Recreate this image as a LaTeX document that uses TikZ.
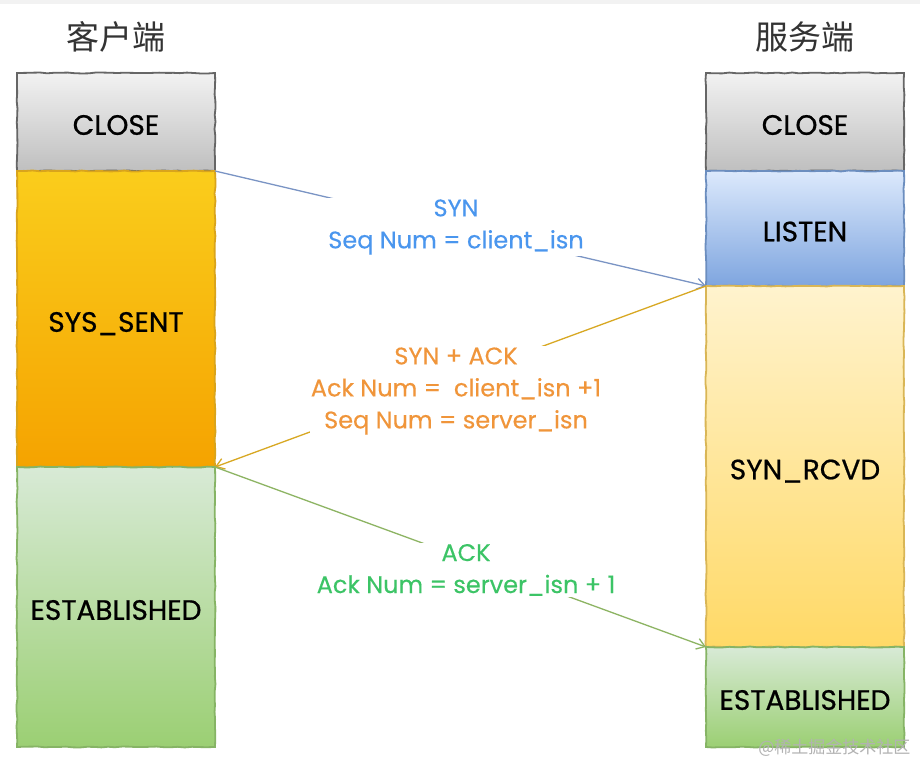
\documentclass[tikz,border=0pt]{standalone}
\usepackage{fontspec}
\setmainfont[FakeBold=0.3]{Poppins}
\newfontfamily\boxfont[FakeBold=0.7]{Poppins}
\newfontfamily\cjk{Noto Sans CJK SC}
\usetikzlibrary{arrows.meta,decorations.pathmorphing}
\definecolor{closeT}{HTML}{F2F2F2}
\definecolor{closeB}{HTML}{BFBFBF}
\definecolor{closeD}{HTML}{666666}
\definecolor{sentT}{HTML}{FACD1C}
\definecolor{sentB}{HTML}{F5A300}
\definecolor{sentD}{HTML}{D9A41C}
\definecolor{estT}{HTML}{D8EAD6}
\definecolor{estB}{HTML}{9BCF73}
\definecolor{estD}{HTML}{86B465}
\definecolor{lisT}{HTML}{DCE9FC}
\definecolor{lisB}{HTML}{7EA5DF}
\definecolor{lisD}{HTML}{6C8EBF}
\definecolor{rcvT}{HTML}{FFF3CE}
\definecolor{rcvB}{HTML}{FFD966}
\definecolor{rcvD}{HTML}{D9B656}
\definecolor{synC}{HTML}{4A96EE}
\definecolor{synL}{HTML}{7A94C4}
\definecolor{sakC}{HTML}{F0953A}
\definecolor{sakL}{HTML}{D8A823}
\definecolor{ackC}{HTML}{3CC466}
\definecolor{ackL}{HTML}{8DB463}
\begin{document}
\begin{tikzpicture}[x=1pt,y=-1pt,
  statebox/.style={rectangle, outer sep=0pt, inner sep=0pt, minimum width=198pt,
    text height=25.6pt, text depth=0pt,
    line width=1.8pt, font=\boxfont\fontsize{28}{30}\selectfont, text=black,
    decorate, decoration={random steps, segment length=7pt, amplitude=0.5pt}},
  closebox/.style={statebox, draw=closeD, top color=closeT, bottom color=closeB},
  sentbox/.style={statebox, draw=sentD, top color=sentT, bottom color=sentB},
  estbox/.style={statebox, draw=estD, top color=estT, bottom color=estB},
  lisbox/.style={statebox, draw=lisD, top color=lisT, bottom color=lisB},
  rcvbox/.style={statebox, draw=rcvD, top color=rcvT, bottom color=rcvB},
  title/.style={font=\cjk\fontsize{33}{36}\selectfont, text=black!80},
  msglbl/.style={fill=white, align=center, inner sep=1pt, font=\fontsize{24}{32}\selectfont},
  msgline/.style={line width=1.3pt, -{Straight Barb[length=8pt,width=11pt]}}
]
\pgfmathsetseed{7}
\useasboundingbox (0,0) rectangle (920,766);
\fill[white] (0,0) rectangle (920,766);
\fill[black!5] (0,0) rectangle (920,4);

\node[title] (tc) at (116,37) {客户端};
\node[title] (ts) at (805,37) {服务端};

% client column
\node[closebox, minimum height=98pt] (lclose) at (116,122) {CLOSE};
\node[sentbox, minimum height=296pt] (lsent) at (116,319) {SYS\_SENT};
\node[estbox, minimum height=280pt] (lest) at (116,607) {ESTABLISHED};

% server column
\node[closebox, minimum height=98pt] (rclose) at (805,122) {CLOSE};
\node[lisbox, minimum height=115pt] (rlis) at (805,228.5) {LISTEN};
\node[rcvbox, minimum height=361pt] (rrcv) at (805,466.5) {SYN\_RCVD};
\node[estbox, minimum height=100pt] (rest) at (805,697) {ESTABLISHED};

% messages
\draw[msgline, synL] (lclose.south east) -- (rlis.south west);
\draw[msgline, sakL] (rrcv.north west) -- (lsent.south east);
\draw[msgline, ackL] (lest.north east) -- (rest.north west);

\node[msglbl, text=synC] (synlbl) at (456,227) {SYN\\Seq Num = client\_isn};
\node[msglbl, text=sakC] (saklbl) at (456,391) {SYN + ACK\\Ack Num = \ client\_isn +1\\Seq Num = server\_isn};
\node[msglbl, text=ackC] (acklbl) at (466,570) {ACK\\Ack Num = server\_isn + 1};

\node[font=\cjk\fontsize{17}{20}\selectfont, text=black!30, anchor=east] (wm) at (914,748) {@稀土掘金技术社区};
\end{tikzpicture}
\end{document}
